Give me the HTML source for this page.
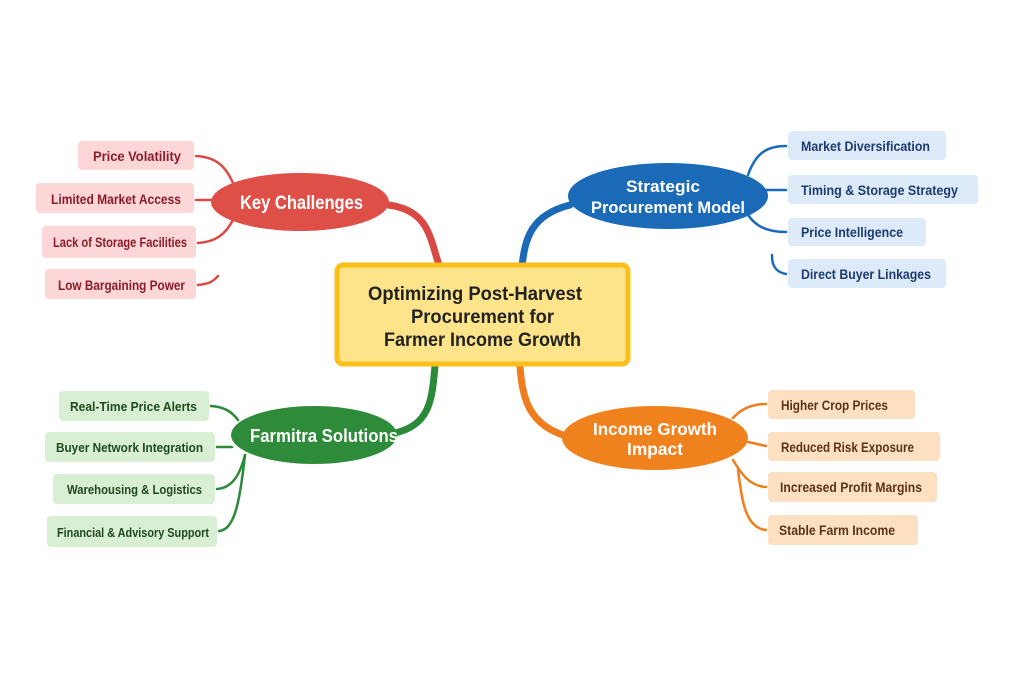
<!DOCTYPE html>
<html><head><meta charset="utf-8"><style>
html,body{margin:0;padding:0;background:#fff;}
svg{display:block;}
text{font-family:"Liberation Sans",sans-serif;font-weight:bold;}
</style></head><body>
<svg width="1024" height="683" viewBox="0 0 1024 683" xmlns="http://www.w3.org/2000/svg">
<g fill="none" stroke-linecap="round">
<path d="M388 205 C430 210 430 240 440 268" stroke="#d94a44" stroke-width="7"/>
<path d="M570 205 C530 215 525 240 522 266" stroke="#1a6ab8" stroke-width="7"/>
<path d="M435 366 C432 400 430 425 395 433" stroke="#2a8a38" stroke-width="7"/>
<path d="M520 366 C522 400 530 425 566 436" stroke="#ef7d1e" stroke-width="7"/>
<g stroke="#d94a44" stroke-width="2.5">
<path d="M196 156 C215 157 225 165 233 183"/>
<path d="M196 200 L218 200"/>
<path d="M198 243 C215 242 225 235 233 220"/>
<path d="M198 285 C208 284 213 282 218 276"/>
</g>
<g stroke="#1a6ab8" stroke-width="2.5">
<path d="M786 146 C765 146 755 155 748 175"/>
<path d="M786 190 L766 190"/>
<path d="M786 232 C765 232 755 225 748 215"/>
<path d="M786 274 C775 272 772 265 772 255"/>
</g>
<g stroke="#2a8a38" stroke-width="2.5">
<path d="M211 406 C225 407 232 412 238 420"/>
<path d="M217 447 L232 447"/>
<path d="M217 489 C232 488 240 475 245 455"/>
<path d="M219 531 C235 530 240 500 245 455"/>
</g>
<g stroke="#ef7d1e" stroke-width="2.5">
<path d="M766 404 C750 404 740 410 733 418"/>
<path d="M766 446 L748 442"/>
<path d="M766 487 C750 486 742 475 733 460"/>
<path d="M766 530 C745 528 742 500 738 470"/>
</g>
</g>
<rect x="337" y="265" width="291" height="99" rx="6" fill="#fde48a" stroke="#fbbf1a" stroke-width="5"/>
<g font-size="19.5" fill="#222" lengthAdjust="spacingAndGlyphs">
<text x="368" y="300" textLength="214" lengthAdjust="spacingAndGlyphs">Optimizing Post-Harvest</text>
<text x="411" y="323" textLength="143" lengthAdjust="spacingAndGlyphs">Procurement for</text>
<text x="384" y="346" textLength="197" lengthAdjust="spacingAndGlyphs">Farmer Income Growth</text>
</g>
<ellipse cx="300" cy="202" rx="89" ry="29" fill="#de4f48"/>
<text x="240" y="209" font-size="19" fill="#fff" textLength="123" lengthAdjust="spacingAndGlyphs">Key Challenges</text>
<ellipse cx="668" cy="196" rx="100" ry="33" fill="#1a6ab8"/>
<text x="626" y="192" font-size="17" fill="#fff" textLength="74" lengthAdjust="spacingAndGlyphs">Strategic</text>
<text x="591" y="213" font-size="17" fill="#fff" textLength="154" lengthAdjust="spacingAndGlyphs">Procurement Model</text>
<ellipse cx="314" cy="435" rx="83" ry="29" fill="#2e8b3a"/>
<text x="250" y="442" font-size="18" fill="#fff" textLength="148" lengthAdjust="spacingAndGlyphs">Farmitra Solutions</text>
<ellipse cx="655" cy="438" rx="93" ry="32" fill="#f0821e"/>
<text x="593" y="435" font-size="17.5" fill="#fff" textLength="124" lengthAdjust="spacingAndGlyphs">Income Growth</text>
<text x="627" y="455" font-size="17.5" fill="#fff" textLength="56" lengthAdjust="spacingAndGlyphs">Impact</text>
<g fill="#fdd7d7"><rect x="78" y="141" width="116" height="29" rx="4"/><rect x="36" y="183" width="158" height="30" rx="4"/><rect x="42" y="226" width="154" height="32" rx="4"/><rect x="45" y="269" width="151" height="30" rx="4"/></g>
<g fill="#8b1c2c" font-size="13.5">
<text x="93" y="161" textLength="88" lengthAdjust="spacingAndGlyphs">Price Volatility</text>
<text x="51" y="204" textLength="130" lengthAdjust="spacingAndGlyphs">Limited Market Access</text>
<text x="53" y="247" textLength="134" lengthAdjust="spacingAndGlyphs">Lack of Storage Facilities</text>
<text x="58" y="290" textLength="127" lengthAdjust="spacingAndGlyphs">Low Bargaining Power</text></g>
<g fill="#dceafa"><rect x="788" y="131" width="158" height="29" rx="4"/><rect x="788" y="175" width="190" height="29" rx="4"/><rect x="788" y="218" width="138" height="28" rx="4"/><rect x="788" y="259" width="158" height="29" rx="4"/></g>
<g fill="#1e3a6e" font-size="13.5">
<text x="801" y="151" textLength="129" lengthAdjust="spacingAndGlyphs">Market Diversification</text>
<text x="801" y="195" textLength="157" lengthAdjust="spacingAndGlyphs">Timing &amp; Storage Strategy</text>
<text x="801" y="237" textLength="102" lengthAdjust="spacingAndGlyphs">Price Intelligence</text>
<text x="801" y="279" textLength="130" lengthAdjust="spacingAndGlyphs">Direct Buyer Linkages</text></g>
<g fill="#d8efd3"><rect x="59" y="391" width="150" height="30" rx="4"/><rect x="45" y="432" width="170" height="30" rx="4"/><rect x="53" y="474" width="162" height="30" rx="4"/><rect x="47" y="516" width="170" height="31" rx="4"/></g>
<g fill="#1f4a20" font-size="13">
<text x="70" y="411" textLength="127" lengthAdjust="spacingAndGlyphs">Real-Time Price Alerts</text>
<text x="56" y="452" textLength="147" lengthAdjust="spacingAndGlyphs">Buyer Network Integration</text>
<text x="67" y="494" textLength="135" lengthAdjust="spacingAndGlyphs">Warehousing &amp; Logistics</text>
<text x="57" y="537" textLength="152" lengthAdjust="spacingAndGlyphs">Financial &amp; Advisory Support</text></g>
<g fill="#fde0c2"><rect x="768" y="390" width="147" height="29" rx="4"/><rect x="768" y="432" width="172" height="29" rx="4"/><rect x="768" y="472" width="169" height="30" rx="4"/><rect x="768" y="515" width="150" height="30" rx="4"/></g>
<g fill="#5a3414" font-size="13.5">
<text x="781" y="410" textLength="107" lengthAdjust="spacingAndGlyphs">Higher Crop Prices</text>
<text x="781" y="452" textLength="133" lengthAdjust="spacingAndGlyphs">Reduced Risk Exposure</text>
<text x="780" y="492" textLength="142" lengthAdjust="spacingAndGlyphs">Increased Profit Margins</text>
<text x="779" y="535" textLength="116" lengthAdjust="spacingAndGlyphs">Stable Farm Income</text></g>
</svg>
</body></html>
